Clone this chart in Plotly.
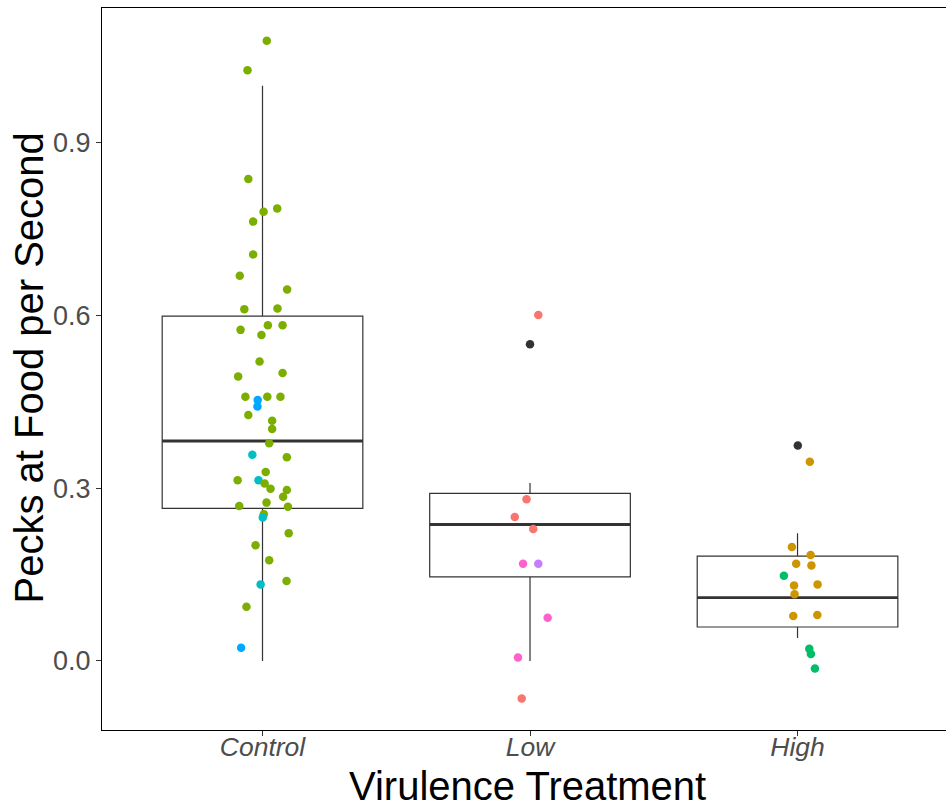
import plotly.graph_objects as go

# ---------------- data ----------------
categories = ["Control", "Low", "High"]

# box statistics per category (q1, median, q3, lower whisker, upper whisker)
box_q1 = [0.265, 0.146, 0.059]
box_median = [0.382, 0.237, 0.110]
box_q3 = [0.599, 0.291, 0.182]
box_lower = [0.0, 0.0, 0.040]
box_upper = [0.999, 0.309, 0.222]

# jittered points: horizontal jitter (category units), value, group colour
control_values = [1.077, 1.026, 0.837, 0.780, 0.786, 0.763, 0.706, 0.669, 0.645, 0.611,
                  0.612, 0.575, 0.583, 0.583, 0.566, 0.520, 0.500, 0.494, 0.459, 0.459,
                  0.459, 0.453, 0.442, 0.427, 0.417, 0.403, 0.378, 0.358, 0.354, 0.328,
                  0.314, 0.314, 0.308, 0.299, 0.297, 0.285, 0.275, 0.269, 0.268, 0.255,
                  0.249, 0.222, 0.201, 0.175, 0.133, 0.139, 0.094, 0.023]
control_jitter = [0.016, -0.056, -0.053, 0.004, 0.055, -0.035, -0.035, -0.085, 0.092, -0.068,
                  0.056, -0.082, 0.020, 0.075, -0.004, -0.011, 0.075, -0.091, -0.064, 0.018,
                  0.067, -0.018, -0.019, -0.053, 0.036, 0.036, 0.025, -0.038, 0.091, 0.012,
                  -0.093, -0.015, 0.008, 0.030, 0.091, 0.077, 0.015, -0.087, 0.095, 0.005,
                  0.001, 0.098, -0.026, 0.025, -0.007, 0.090, -0.060, -0.080]
control_group = ["G"] * 21 + ["B", "B"] + ["G"] * 4 + ["C", "G", "G", "G", "C"] + ["G"] * 8 + \
                ["C", "G", "G", "G", "C", "G", "G", "B"]

low_values = [0.601, 0.550, 0.281, 0.250, 0.229, 0.169, 0.169, 0.075, 0.006, -0.065]
low_jitter = [0.031, 0.000, -0.013, -0.057, 0.012, -0.026, 0.031, 0.066, -0.045, -0.031]
low_group = ["S", "D", "S", "S", "S", "P", "V", "P", "P", "S"]

high_values = [0.374, 0.346, 0.198, 0.184, 0.169, 0.166, 0.148, 0.131, 0.133, 0.116,
               0.078, 0.080, 0.021, 0.012, -0.013]
high_jitter = [0.001, 0.046, -0.021, 0.049, -0.005, 0.052, -0.051, -0.013, 0.075, -0.011,
               -0.016, 0.074, 0.044, 0.050, 0.065]
high_group = ["D", "Y", "Y", "Y", "Y", "Y", "E", "Y", "Y", "Y", "Y", "Y", "E", "E", "E"]

group_colors = {
    "S": "#F8766D", "Y": "#CD9600", "G": "#7CAE00", "E": "#00BE67",
    "C": "#00BFC4", "B": "#00A9FF", "V": "#C77CFF", "P": "#FF61CC", "D": "#333333",
}

y_ticks = [0.0, 0.3, 0.6, 0.9]
y_tick_labels = ["0.0", "0.3", "0.6", "0.9"]

x_title = "Virulence Treatment"
y_title = "Pecks at Food per Second"

# ---------------- figure ----------------
BOX_W = 0.75
fig = go.Figure()

for i, cat in enumerate(categories):
    fig.add_trace(go.Box(
        x=[i], q1=[box_q1[i]], median=[box_median[i]], q3=[box_q3[i]],
        lowerfence=[box_lower[i]], upperfence=[box_upper[i]],
        width=BOX_W, whiskerwidth=0, boxpoints=False,
        fillcolor="white", line=dict(color="#333333", width=1.2),
        showlegend=False, name=cat, hoverinfo="skip",
    ))
    # thicker median line (ggplot fatten)
    fig.add_trace(go.Scatter(
        x=[i - BOX_W / 2, i + BOX_W / 2], y=[box_median[i], box_median[i]],
        mode="lines", line=dict(color="#333333", width=2.8),
        showlegend=False, hoverinfo="skip",
    ))

series = [(0, control_values, control_jitter, control_group),
          (1, low_values, low_jitter, low_group),
          (2, high_values, high_jitter, high_group)]
for idx, vals, jit, grp in series:
    fig.add_trace(go.Scatter(
        x=[idx + j for j in jit], y=vals, mode="markers",
        marker=dict(size=8.5, color=[group_colors[g] for g in grp], line=dict(width=0)),
        showlegend=False,
    ))

font_family = "Liberation Sans, Arial, sans-serif"

fig.update_layout(
    width=946, height=809,
    margin=dict(l=102, r=0, t=8, b=79, autoexpand=False),
    plot_bgcolor="white", paper_bgcolor="white",
    font=dict(family=font_family),
    showlegend=False,
)

fig.update_xaxes(
    range=[-0.6, 2.555], automargin=False,
    tickmode="array", tickvals=list(range(len(categories))), ticktext=categories,
    tickfont=dict(size=26.5, color="#4D4D4D", family=font_family, style="italic"),
    ticks="outside", ticklen=5, tickwidth=1.1, tickcolor="#333333",
    ticklabelstandoff=-12,
    showline=True, linecolor="black", linewidth=1.3, mirror=True,
    showgrid=False, zeroline=False,
)

fig.update_yaxes(
    range=[-0.1199, 1.134], automargin=False,
    tickmode="array", tickvals=y_ticks, ticktext=y_tick_labels,
    tickfont=dict(size=27, color="#4D4D4D", family=font_family),
    ticks="outside", ticklen=5, tickwidth=1.1, tickcolor="#333333",
    showline=True, linecolor="black", linewidth=1.3, mirror=False,
    showgrid=False, zeroline=False,
)

# axis titles placed as annotations for exact positioning
fig.add_annotation(
    text=x_title, xref="paper", yref="paper", x=0.5047, y=-0.0776,
    xanchor="center", yanchor="middle", showarrow=False, borderpad=0,
    font=dict(size=40, color="black", family=font_family),
)
fig.add_annotation(
    text=y_title, xref="paper", yref="paper", x=-0.0865, y=0.502,
    xanchor="center", yanchor="middle", showarrow=False, textangle=-90,
    font=dict(size=40, color="black", family=font_family),
)

fig.write_html(
    "out.html",
    config={"displayModeBar": False},
    post_script="document.body.style.margin='0';document.body.style.overflow='hidden';",
)
